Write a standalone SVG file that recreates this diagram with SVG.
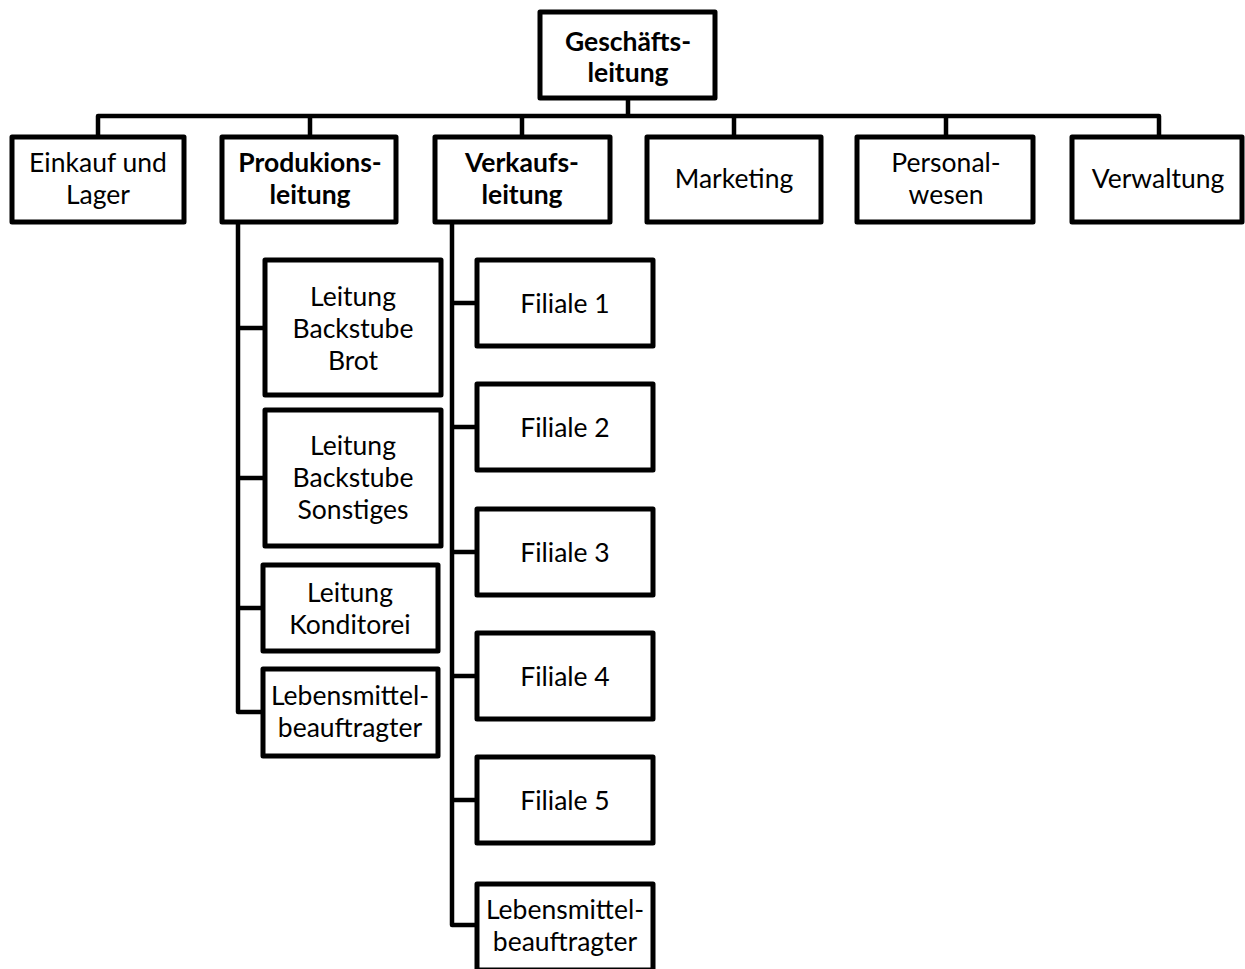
<svg xmlns="http://www.w3.org/2000/svg" width="1245" height="969" viewBox="0 0 1245 969">
<style>
.box{fill:#fff;stroke:#000;stroke-width:5;stroke-linejoin:round}
.con{fill:none;stroke:#000;stroke-width:4.5;stroke-linejoin:round;stroke-linecap:butt}
text{font-family:Lato,"Open Sans","Liberation Sans",sans-serif;font-size:26.5px;fill:#000;text-anchor:middle}
.b{font-weight:bold}
</style>
<rect width="1245" height="969" fill="#fff"/>
<g id="connectors">
<path class="con" d="M628,100V116M98,137V116H1159V137M310,116V137M522,116V137M734,116V137M946,116V137"/>
<path class="con" d="M238,224V712H263M238,328H265M238,478H265M238,608H263"/>
<path class="con" d="M452,224V925H477M452,303H477M452,427H477M452,552H477M452,676H477M452,800H477"/>
</g>
<g id="geschaeftsleitung"><rect class="box" x="540" y="12" width="175" height="86"/><text class="b" x="628" y="51">Geschäfts-</text><text class="b" x="628" y="82">leitung</text></g>
<g id="einkauf"><rect class="box" x="12" y="137" width="172" height="85"/><text x="98" y="172">Einkauf und</text><text x="98" y="204">Lager</text></g>
<g id="produktion"><rect class="box" x="222" y="137" width="174" height="85"/><text class="b" x="310" y="172">Produkions-</text><text class="b" x="310" y="204">leitung</text></g>
<g id="verkauf"><rect class="box" x="435" y="137" width="175" height="85"/><text class="b" x="522" y="172">Verkaufs-</text><text class="b" x="522" y="204">leitung</text></g>
<g id="marketing"><rect class="box" x="647" y="137" width="174" height="85"/><text x="734" y="188">Marketing</text></g>
<g id="personal"><rect class="box" x="857" y="137" width="176" height="85"/><text x="946" y="172">Personal-</text><text x="946" y="204">wesen</text></g>
<g id="verwaltung"><rect class="box" x="1072" y="137" width="170" height="85"/><text x="1158" y="188">Verwaltung</text></g>
<g id="backstube-brot"><rect class="box" x="265" y="260" width="176" height="135"/><text x="353" y="306">Leitung</text><text x="353" y="338">Backstube</text><text x="353" y="370">Brot</text></g>
<g id="backstube-sonstiges"><rect class="box" x="265" y="410" width="176" height="136"/><text x="353" y="455">Leitung</text><text x="353" y="487">Backstube</text><text x="353" y="519">Sonstiges</text></g>
<g id="konditorei"><rect class="box" x="263" y="565" width="175" height="86"/><text x="350" y="602">Leitung</text><text x="350" y="634">Konditorei</text></g>
<g id="lebensmittel-prod"><rect class="box" x="263" y="669" width="175" height="87"/><text x="350" y="705">Lebensmittel-</text><text x="350" y="737">beauftragter</text></g>
<g id="filiale1"><rect class="box" x="477" y="260" width="176" height="86"/><text x="565" y="313">Filiale 1</text></g>
<g id="filiale2"><rect class="box" x="477" y="384" width="176" height="86"/><text x="565" y="437">Filiale 2</text></g>
<g id="filiale3"><rect class="box" x="477" y="509" width="176" height="86"/><text x="565" y="562">Filiale 3</text></g>
<g id="filiale4"><rect class="box" x="477" y="633" width="176" height="86"/><text x="565" y="686">Filiale 4</text></g>
<g id="filiale5"><rect class="box" x="477" y="757" width="176" height="86"/><text x="565" y="810">Filiale 5</text></g>
<g id="lebensmittel-verk"><rect class="box" x="477" y="884" width="176" height="86"/><text x="565" y="919">Lebensmittel-</text><text x="565" y="951">beauftragter</text></g>
</svg>
